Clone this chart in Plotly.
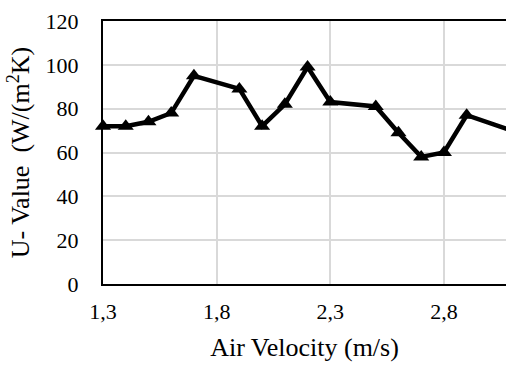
import plotly.graph_objects as go

air_velocity = [1.3, 1.4, 1.5, 1.6, 1.7, 1.9, 2.0, 2.1, 2.2, 2.3, 2.5, 2.6, 2.7, 2.8, 2.9, 3.1]
u_value = [72, 72, 74, 78, 95, 89, 72, 82, 99, 83, 81, 69, 58, 60, 77, 70]

x_tickvals = [1.3, 1.8, 2.3, 2.8]
x_ticktext = ["1,3", "1,8", "2,3", "2,8"]
y_tickvals = [0, 20, 40, 60, 80, 100, 120]

font = "Liberation Serif, Times New Roman, serif"

fig = go.Figure()
fig.add_trace(go.Scatter(
    x=air_velocity, y=u_value, mode="lines+markers",
    line=dict(color="black", width=4.5),
    marker=dict(symbol="triangle-up", size=14, color="black"),
    cliponaxis=False,
    showlegend=False,
))

fig.update_layout(
    width=506, height=365,
    margin=dict(l=103, r=0, t=21, b=81),
    paper_bgcolor="white", plot_bgcolor="white",
    font=dict(family=font, size=22, color="black"),
    xaxis=dict(
        range=[1.3, 3.073],
        tickvals=x_tickvals, ticktext=x_ticktext,
        showgrid=True, gridcolor="#d9d9d9", gridwidth=2,
        showline=True, linecolor="black", linewidth=2, mirror=True,
        ticks="", ticklabelstandoff=7,
        zeroline=False,
        title=dict(text="Air Velocity (m/s)", standoff=14, font=dict(size=26)),
    ),
    yaxis=dict(
        range=[0, 120],
        tickvals=y_tickvals,
        showgrid=True, gridcolor="#d9d9d9", gridwidth=2,
        showline=True, linecolor="black", linewidth=2,
        ticks="", ticklabelstandoff=18,
        zeroline=False,
        title=dict(text="U- Value  (W/(m<sup>2</sup>K)", standoff=8, font=dict(size=26)),
    ),
)

fig.write_html("out.html", config={"displayModeBar": False},
               post_script="document.body.style.margin='0';document.body.style.overflow='hidden';")
